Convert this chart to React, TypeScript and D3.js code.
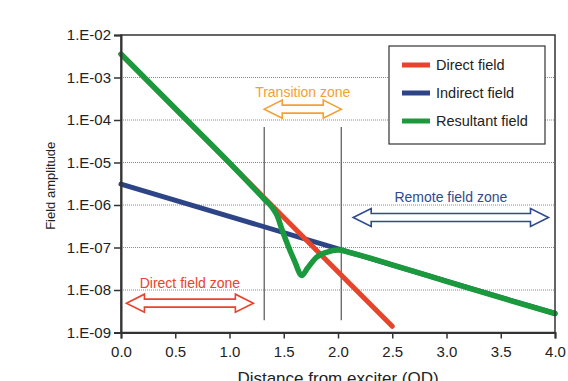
import React, { useEffect, useRef } from "react";
import * as d3 from "d3";

// values (field amplitude vs distance in OD)
const directX = [0, 2.5];
const directY = [3.55e-3, 1.4e-9];

const indirectX = [0, 4.0];
const indirectY = [3.1e-6, 2.8e-9];

const resultantX = [0, 0.5, 1.0, 1.2, 1.32, 1.4, 1.44, 1.48, 1.55, 1.6, 1.665, 1.72, 1.8, 1.9, 2.0, 2.1, 2.5, 3.0, 3.5, 4.0];
const resultantY = [
  3.55e-3, 1.86e-4, 9.8e-6, 2.9e-6, 1.38e-6, 8.3e-7, 5.6e-7, 2.8e-7, 9.5e-8, 4.8e-8,
  2.2e-8, 3.3e-8, 5.8e-8, 7.8e-8, 8.7e-8, 7.7e-8, 3.9e-8, 1.6e-8, 6.6e-9, 2.8e-9,
];

const yTickValues = [1e-9, 1e-8, 1e-7, 1e-6, 1e-5, 1e-4, 1e-3, 1e-2];
const yTickLabels = ["1.E-09", "1.E-08", "1.E-07", "1.E-06", "1.E-05", "1.E-04", "1.E-03", "1.E-02"];
const xTickValues = [0, 0.5, 1, 1.5, 2, 2.5, 3, 3.5, 4];

const zoneBounds = [1.32, 2.03];

const zoneArrows = [
  { label: "Transition zone", from: 1.32, to: 2.03, level: 1.8e-4, textLevel: 3.5e-4, color: "#f5a031" },
  { label: "Direct field zone", from: 0.05, to: 1.22, level: 4.9e-9, textLevel: 1.1e-8, color: "#e8432b" },
  { label: "Remote field zone", from: 2.14, to: 3.94, level: 5.1e-7, textLevel: 1.15e-6, color: "#304b8c" },
];

const series = [
  { name: "Direct field", xs: directX, ys: directY, color: "#e8432b" },
  { name: "Indirect field", xs: indirectX, ys: indirectY, color: "#2d4486" },
  { name: "Resultant field", xs: resultantX, ys: resultantY, color: "#1b9a3d" },
];

const W = 568;
const H = 381;
const margin = { top: 35, right: 13, bottom: 48.5, left: 121 };
const font = "Liberation Sans, Arial, Helvetica, sans-serif";

const App: React.FC = () => {
  const svgRef = useRef<SVGSVGElement>(null);

  useEffect(() => {
    if (!svgRef.current) return;
    const root = d3.select(svgRef.current);
    root.selectAll("*").remove();

    const x = d3.scaleLinear().domain([0, 4]).range([margin.left, W - margin.right]);
    const y = d3.scaleLog().domain([1e-9, 1e-2]).range([H - margin.bottom, margin.top]);

    const svg = root.append("g").attr("font-family", font);

    // dotted gridlines
    svg
      .append("g")
      .selectAll("line")
      .data(yTickValues.slice(1, -1))
      .join("line")
      .attr("x1", x(0))
      .attr("x2", x(4))
      .attr("y1", (d) => y(d))
      .attr("y2", (d) => y(d))
      .attr("stroke", "#8a8a8a")
      .attr("stroke-width", 1)
      .attr("stroke-dasharray", "1,1");

    // zone boundary lines
    svg
      .append("g")
      .selectAll("line")
      .data(zoneBounds)
      .join("line")
      .attr("x1", (d) => x(d))
      .attr("x2", (d) => x(d))
      .attr("y1", y(6.8e-5))
      .attr("y2", y(1.95e-9))
      .attr("stroke", "#555")
      .attr("stroke-width", 1.2);

    // zone arrows
    const headLen = 18;
    const headH = 9;
    const shaftH = 4;
    zoneArrows.forEach((z) => {
      const x0 = x(z.from);
      const x1 = x(z.to);
      const cy = y(z.level);
      const pts: [number, number][] = [
        [x0, cy],
        [x0 + headLen, cy - headH],
        [x0 + headLen, cy - shaftH],
        [x1 - headLen, cy - shaftH],
        [x1 - headLen, cy - headH],
        [x1, cy],
        [x1 - headLen, cy + headH],
        [x1 - headLen, cy + shaftH],
        [x0 + headLen, cy + shaftH],
        [x0 + headLen, cy + headH],
      ];
      svg
        .append("path")
        .attr("d", d3.line()(pts) + "Z")
        .attr("fill", "#fff")
        .attr("stroke", z.color)
        .attr("stroke-width", 1.6)
        .attr("stroke-linejoin", "miter");
      svg
        .append("text")
        .attr("x", (x0 + x1) / 2)
        .attr("y", y(z.textLevel))
        .attr("text-anchor", "middle")
        .attr("font-size", 14)
        .attr("fill", z.color)
        .text(z.label);
    });

    // series lines
    const line = d3
      .line<[number, number]>()
      .x((d) => x(d[0]))
      .y((d) => y(d[1]))
      .curve(d3.curveMonotoneX);

    [series[1], series[0], series[2]].forEach((s) => {
      svg
        .append("path")
        .datum(s.xs.map((v, i) => [v, s.ys[i]] as [number, number]))
        .attr("fill", "none")
        .attr("stroke", s.color)
        .attr("stroke-width", s.name === "Resultant field" ? 5.5 : 5)
        .attr("stroke-linecap", "round")
        .attr("stroke-linejoin", "round")
        .attr("d", line);
    });

    // frame
    svg
      .append("rect")
      .attr("x", x(0))
      .attr("y", y(1e-2))
      .attr("width", x(4) - x(0))
      .attr("height", y(1e-9) - y(1e-2))
      .attr("fill", "none")
      .attr("stroke", "#333")
      .attr("stroke-width", 1.5);

    // axes
    const yAxis = svg
      .append("g")
      .attr("transform", `translate(${x(0)},0)`)
      .call(
        d3
          .axisLeft(y)
          .tickValues(yTickValues)
          .tickFormat((_, i) => yTickLabels[i])
          .tickSize(7)
          .tickPadding(3)
      );
    const xAxis = svg
      .append("g")
      .attr("transform", `translate(0,${y(1e-9)})`)
      .call(d3.axisBottom(x).tickValues(xTickValues).tickFormat(d3.format(".1f")).tickSize(6).tickPadding(8));
    [yAxis, xAxis].forEach((a) => {
      a.select(".domain").attr("stroke", "#333").attr("stroke-width", 2);
      a.selectAll(".tick line").attr("stroke", "#333").attr("stroke-width", 1.5);
      a.selectAll(".tick text")
        .attr("font-family", font)
        .attr("font-size", 15)
        .attr("fill", "#222");
    });

    // axis titles
    svg
      .append("text")
      .attr("transform", `translate(55,${(y(1e-2) + y(1e-9)) / 2 + 2}) rotate(-90)`)
      .attr("text-anchor", "middle")
      .attr("font-size", 13)
      .attr("fill", "#222")
      .text("Field amplitude");
    svg
      .append("text")
      .attr("x", 338)
      .attr("y", 384)
      .attr("text-anchor", "middle")
      .attr("font-size", 17)
      .attr("fill", "#222")
      .text("Distance from exciter (OD)");

    // legend
    const legend = svg.append("g").attr("transform", "translate(389,46)");
    legend
      .append("rect")
      .attr("width", 156)
      .attr("height", 98)
      .attr("fill", "#fff")
      .attr("stroke", "#333")
      .attr("stroke-width", 1.2);
    series.forEach((s, i) => {
      const row = legend.append("g").attr("transform", `translate(0,${19 + i * 28})`);
      row
        .append("line")
        .attr("x1", 13)
        .attr("x2", 41)
        .attr("stroke", s.color)
        .attr("stroke-width", 5);
      row
        .append("text")
        .attr("x", 47)
        .attr("y", 5)
        .attr("font-size", 14.5)
        .attr("fill", "#222")
        .text(s.name);
    });
  }, []);

  return (
    <svg
      ref={svgRef}
      width={W}
      height={H}
      style={{ position: "absolute", left: 0, top: 0, background: "#fff" }}
    />
  );
};

export default App;
